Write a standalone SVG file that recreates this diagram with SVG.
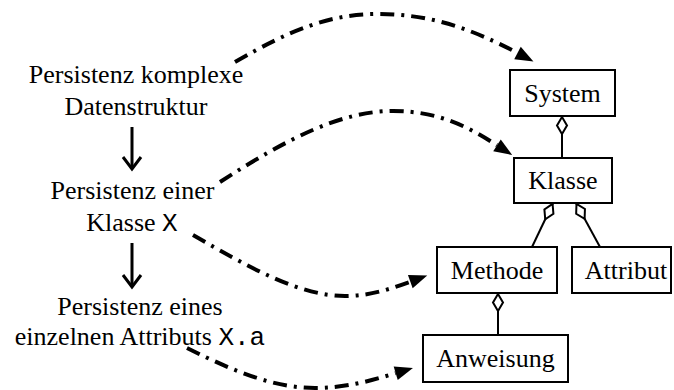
<svg xmlns="http://www.w3.org/2000/svg" width="674" height="390" viewBox="0 0 674 390">
  <style>
    .lbl { font-family: 'Liberation Serif', 'DejaVu Serif', serif; font-size: 26px; fill: #000; text-anchor: middle; }
    .code { font-family: 'Liberation Mono', 'DejaVu Sans Mono', monospace; }
    .box { fill: #fff; stroke: #000; stroke-width: 2; }
    .flow { fill: none; stroke: #000; stroke-width: 4; stroke-dasharray: 14 7 3 7; }
    .step { fill: none; stroke: #000; stroke-width: 3; }
    .agg { fill: none; stroke: #000; stroke-width: 2; }
  </style>
  <defs>
    <marker id="tri" markerUnits="userSpaceOnUse" markerWidth="20" markerHeight="16" refX="0" refY="0" viewBox="0 -8 20 16" orient="auto" overflow="visible">
      <path d="M0,-7 L18,0 L0,7 Z" fill="#000"/>
    </marker>
    <marker id="chev" markerUnits="userSpaceOnUse" markerWidth="24" markerHeight="24" refX="0" refY="0" viewBox="-12 -12 24 24" orient="auto" overflow="visible">
      <path d="M-12,-9 L0,0 L-12,9" fill="none" stroke="#000" stroke-width="3"/>
    </marker>
    <marker id="dia" markerUnits="userSpaceOnUse" markerWidth="20" markerHeight="12" refX="0" refY="0" viewBox="0 -6 20 12" orient="auto" overflow="visible">
      <path d="M1,0 L9.5,-5 L18,0 L9.5,5 Z" fill="#fff" stroke="#000" stroke-width="2"/>
    </marker>
  </defs>

  <!-- connectors -->
  <g id="connectors">
    <!-- refinement steps on the left -->
    <path class="step" d="M132,127 L132,169" marker-end="url(#chev)"/>
    <path class="step" d="M132,243 L132,287" marker-end="url(#chev)"/>
    <!-- mapping of each step onto the model element -->
    <path class="flow" d="M235,62 C290,30 330,14 377,14 C430,14 470,28 517.5,53" marker-end="url(#tri)"/>
    <path class="flow" d="M220,182 C285,140 340,111 393,111 C440,111 470,128 497,145.3" marker-end="url(#tri)"/>
    <path class="flow" d="M193,235 C250,268 300,296 345,296 C370,296 390,289 410.3,281.7" marker-end="url(#tri)"/>
    <path class="flow" d="M187,348 C235,372 275,388 315,388 C345,388 370,381 395.7,373.2" marker-end="url(#tri)"/>
    <!-- aggregations -->
    <path class="agg" d="M562,116 L562,158" marker-start="url(#dia)"/>
    <path class="agg" d="M553,203 L532,247" marker-start="url(#dia)"/>
    <path class="agg" d="M576,203 L600,247" marker-start="url(#dia)"/>
    <path class="agg" d="M498,293 L498,335" marker-start="url(#dia)"/>
  </g>

  <!-- steps -->
  <g id="step-datenstruktur">
    <text class="lbl" x="136" y="83">Persistenz komplexe</text>
    <text class="lbl" x="136" y="115">Datenstruktur</text>
  </g>
  <g id="step-klasse">
    <text class="lbl" x="132.5" y="199">Persistenz einer</text>
    <text class="lbl" x="132" y="231">Klasse <tspan class="code">X</tspan></text>
  </g>
  <g id="step-attribut">
    <text class="lbl" x="140" y="315">Persistenz eines</text>
    <text class="lbl" x="140" y="345">einzelnen Attributs <tspan class="code">X.a</tspan></text>
  </g>

  <!-- model elements -->
  <g id="system">
    <rect class="box" x="510" y="70" width="105" height="46"/>
    <text class="lbl" x="562.5" y="102">System</text>
  </g>
  <g id="klasse">
    <rect class="box" x="514" y="158" width="98" height="45"/>
    <text class="lbl" x="563" y="189">Klasse</text>
  </g>
  <g id="methode">
    <rect class="box" x="437" y="247" width="120" height="46"/>
    <text class="lbl" x="497" y="279">Methode</text>
  </g>
  <g id="attribut">
    <rect class="box" x="572" y="247" width="99" height="46"/>
    <text class="lbl" x="626" y="279">Attribut</text>
  </g>
  <g id="anweisung">
    <rect class="box" x="423" y="335" width="145" height="47"/>
    <text class="lbl" x="495.5" y="367">Anweisung</text>
  </g>
</svg>
